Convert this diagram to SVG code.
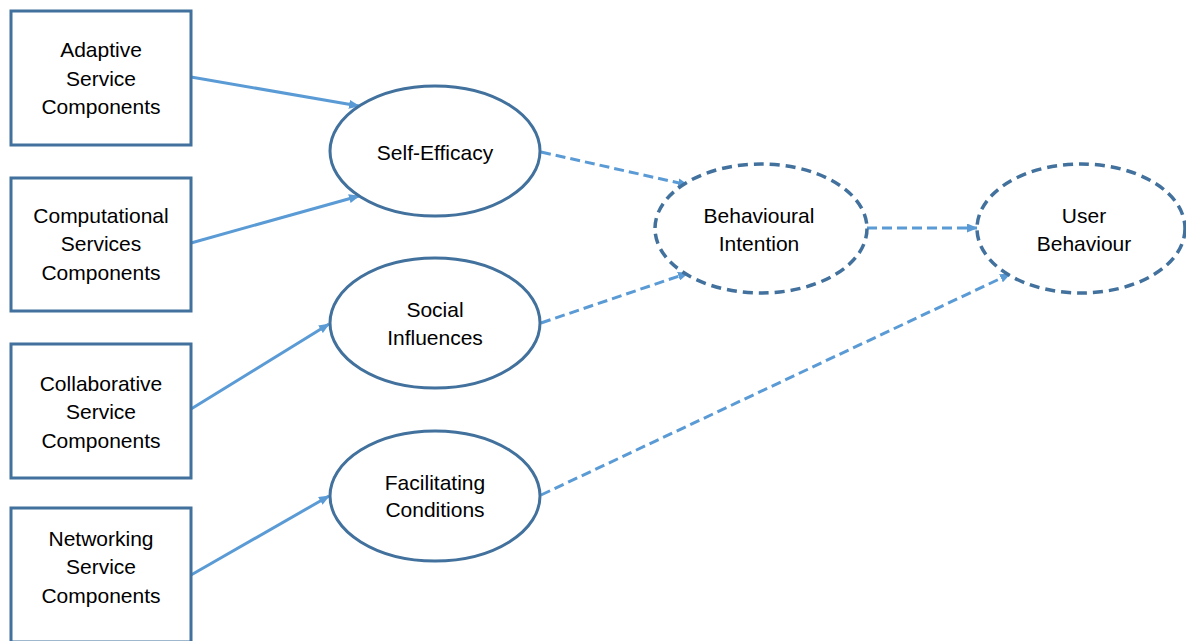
<svg xmlns="http://www.w3.org/2000/svg" width="1186" height="641" viewBox="0 0 1186 641">
  <style>
    .box { fill: #ffffff; stroke: #41719C; stroke-width: 3; }
    .oval { fill: #ffffff; stroke: #41719C; stroke-width: 3; }
    .dashed { stroke-width: 3.5; stroke-dasharray: 10 6; }
    .link { fill: none; stroke: #5B9BD5; stroke-width: 3; marker-end: url(#arrow); }
    .link.dash { stroke-dasharray: 10 5; }
    text { font-family: "Liberation Sans", Arial, sans-serif; font-size: 21px; fill: #000000; text-anchor: middle; }
  </style>
  <defs>
    <marker id="arrow" viewBox="0 0 11 9" refX="10" refY="4.5" markerWidth="11" markerHeight="9" markerUnits="userSpaceOnUse" orient="auto">
      <path d="M0,0 L11,4.5 L0,9 Z" fill="#5B9BD5"/>
    </marker>
  </defs>
  <rect width="1186" height="641" fill="#ffffff"/>

  <!-- connectors -->
  <g id="connectors">
    <line class="link" x1="191" y1="77" x2="359" y2="106"/>
    <line class="link" x1="191" y1="243" x2="359" y2="196"/>
    <line class="link" x1="191" y1="409" x2="329" y2="324"/>
    <line class="link" x1="191" y1="575" x2="329" y2="496"/>
    <line class="link dash" x1="541" y1="152" x2="688" y2="185"/>
    <line class="link dash" x1="541" y1="323" x2="688" y2="273"/>
    <line class="link dash" x1="541" y1="495" x2="1010" y2="274"/>
    <line class="link dash" x1="867" y1="228" x2="977" y2="228"/>
  </g>

  <!-- source components -->
  <g id="adaptive">
    <rect class="box" x="11" y="11" width="180" height="134"/>
    <text x="101" y="57">Adaptive</text>
    <text x="101" y="86">Service</text>
    <text x="101" y="114">Components</text>
  </g>
  <g id="computational">
    <rect class="box" x="11" y="178" width="180" height="133"/>
    <text x="101" y="223">Computational</text>
    <text x="101" y="251">Services</text>
    <text x="101" y="280">Components</text>
  </g>
  <g id="collaborative">
    <rect class="box" x="11" y="344" width="180" height="134"/>
    <text x="101" y="391">Collaborative</text>
    <text x="101" y="419">Service</text>
    <text x="101" y="448">Components</text>
  </g>
  <g id="networking">
    <rect class="box" x="11" y="508" width="180" height="134"/>
    <text x="101" y="546">Networking</text>
    <text x="101" y="574">Service</text>
    <text x="101" y="603">Components</text>
  </g>

  <!-- constructs -->
  <g id="self-efficacy">
    <ellipse class="oval" cx="435" cy="151" rx="105" ry="65"/>
    <text x="435" y="160">Self-Efficacy</text>
  </g>
  <g id="social-influences">
    <ellipse class="oval" cx="435" cy="323" rx="105" ry="65"/>
    <text x="435" y="317">Social</text>
    <text x="435" y="345">Influences</text>
  </g>
  <g id="facilitating-conditions">
    <ellipse class="oval" cx="435" cy="496" rx="105" ry="65"/>
    <text x="435" y="490">Facilitating</text>
    <text x="435" y="517">Conditions</text>
  </g>
  <g id="behavioural-intention">
    <ellipse class="oval dashed" cx="761" cy="228.5" rx="106" ry="64.5"/>
    <text x="759" y="223">Behavioural</text>
    <text x="759" y="251">Intention</text>
  </g>
  <g id="user-behaviour">
    <ellipse class="oval dashed" cx="1081" cy="228.5" rx="104" ry="64.5"/>
    <text x="1084" y="223">User</text>
    <text x="1084" y="251">Behaviour</text>
  </g>
</svg>
